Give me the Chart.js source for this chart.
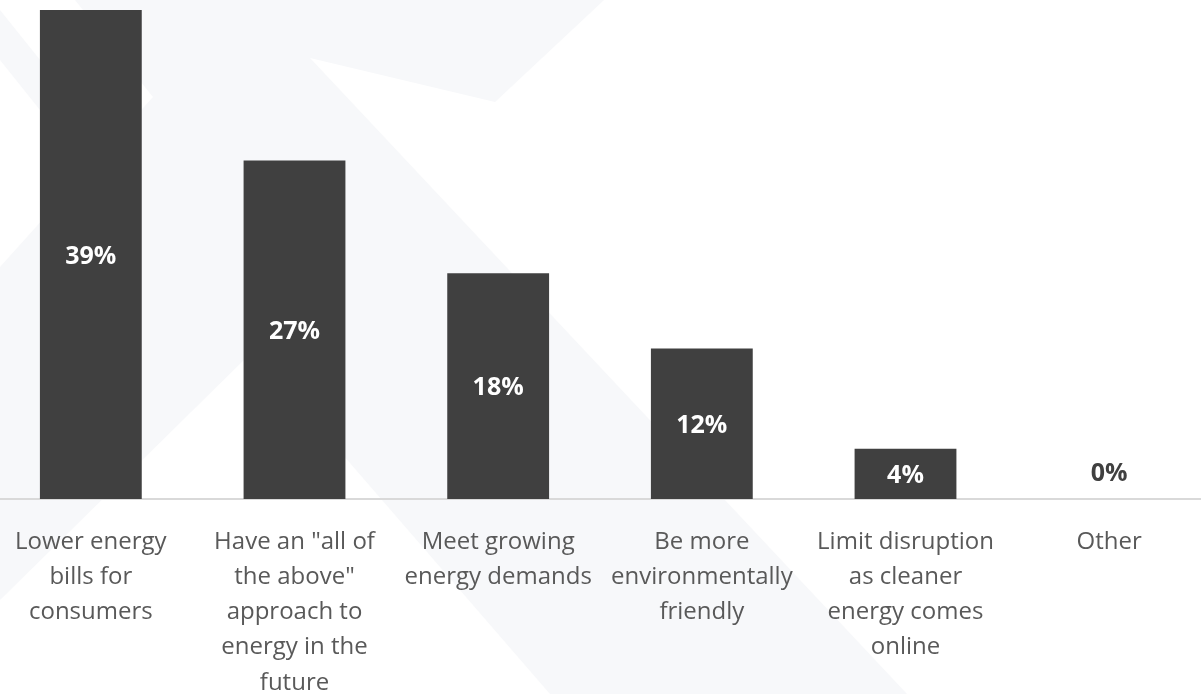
<!DOCTYPE html>
<html>
<head>
<meta charset="utf-8">
<title>Energy priorities</title>
<script src="https://cdn.jsdelivr.net/npm/chart.js"></script>
<style>
  html, body { margin: 0; padding: 0; background: #ffffff; overflow: hidden; }
  /* canvas is a bit wider than the window so the outer bars sit where they do in the original */
  #chartWrap { position: absolute; left: -11px; top: 0; width: 1222px; height: 694px; }
</style>
</head>
<body>
<div id="chartWrap"><canvas id="barChart"></canvas></div>
<script>
const categories = [
  ["Lower energy", "bills for", "consumers"],
  ['Have an "all of', 'the above"', "approach to", "energy in the", "future"],
  ["Meet growing", "energy demands"],
  ["Be more", "environmentally", "friendly"],
  ["Limit disruption", "as cleaner", "energy comes", "online"],
  ["Other"]
];
const shares = [39, 27, 18, 12, 4, 0];

// faint watermark in the background (page pixels)
const watermarkLight = [
  [[75, 0], [604, 0], [495, 102], [310, 58], [907, 694], [0, 694], [0, 267], [153, 97]],
  [[0, 10], [109, 146], [88, 170], [0, 60]]
];
const watermarkWhite = [
  [[253, 351], [0, 600], [0, 694], [550, 694]]
];
const shiftX = 11;

const backgroundPlugin = {
  id: "watermark",
  beforeDraw(chart) {
    const ctx = chart.ctx;
    ctx.save();
    ctx.fillStyle = "#ffffff";
    ctx.fillRect(0, 0, chart.width, chart.height);
    const fillPoly = (pts, color) => {
      ctx.fillStyle = color;
      ctx.beginPath();
      pts.forEach((p, i) => {
        if (i === 0) ctx.moveTo(p[0] + shiftX, p[1]);
        else ctx.lineTo(p[0] + shiftX, p[1]);
      });
      ctx.closePath();
      ctx.fill();
    };
    watermarkLight.forEach(p => fillPoly(p, "#f7f8fa"));
    watermarkWhite.forEach(p => fillPoly(p, "#ffffff"));
    ctx.restore();
  }
};

const valueLabelPlugin = {
  id: "valueLabels",
  afterDatasetsDraw(chart) {
    const ctx = chart.ctx;
    const meta = chart.getDatasetMeta(0);
    ctx.save();
    ctx.font = 'bold 25px "Open Sans"';
    ctx.textAlign = "center";
    ctx.textBaseline = "middle";
    meta.data.forEach((bar, i) => {
      const v = shares[i];
      const y = v > 0 ? (bar.y + bar.base) / 2 + 2 : bar.base - 25;
      ctx.fillStyle = v > 0 ? "#ffffff" : "#404040";
      ctx.fillText(v + "%", bar.x, y);
    });
    ctx.restore();
  }
};

const ctxBar = document.getElementById("barChart").getContext("2d");

const barChart = new Chart(ctxBar, {
  type: "bar",
  data: {
    labels: categories,
    datasets: [
      {
        data: shares,
        backgroundColor: "#404040",
        borderWidth: 0,
        barPercentage: 0.5,
        categoryPercentage: 1.0
      }
    ]
  },
  options: {
    responsive: true,
    maintainAspectRatio: false,
    animation: false,
    layout: {
      padding: { top: 10, left: 0, right: 0, bottom: 0 }
    },
    plugins: {
      legend: { display: false },
      tooltip: { enabled: false }
    },
    scales: {
      x: {
        grid: { display: false },
        border: { display: true, color: "#d9d9d9", width: 2 },
        ticks: {
          autoSkip: false,
          maxRotation: 0,
          minRotation: 0,
          padding: 18,
          color: "#595959",
          font: { family: "Open Sans", size: 24, lineHeight: 1.46 }
        },
        afterFit: (scale) => { scale.height = 195; }
      },
      y: {
        display: false,
        min: 0,
        max: 39
      }
    }
  },
  plugins: [backgroundPlugin, valueLabelPlugin]
});
</script>
</body>
</html>
